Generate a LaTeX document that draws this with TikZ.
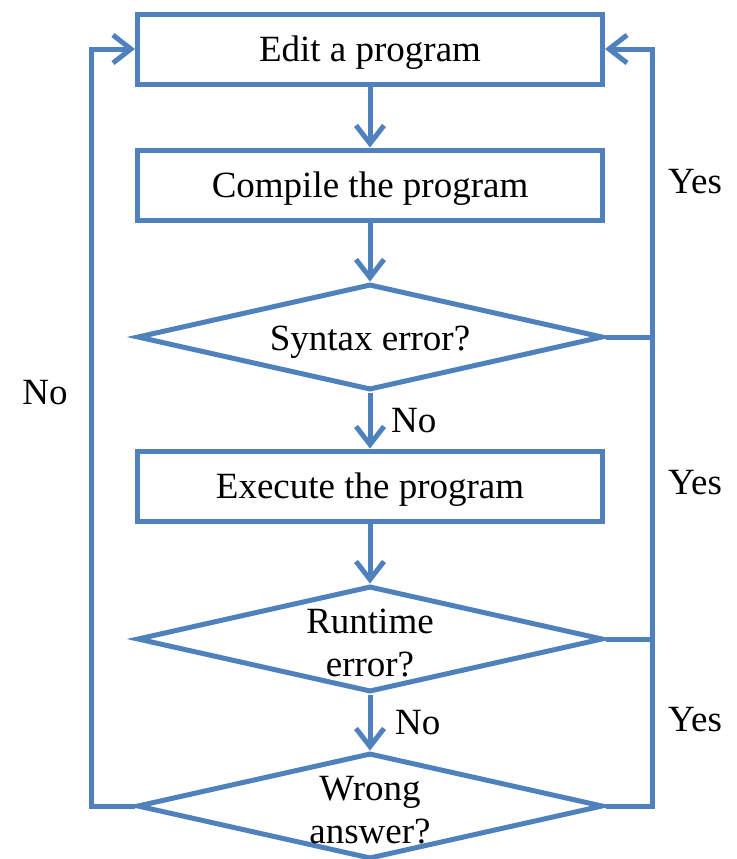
\documentclass[tikz,border=0pt]{standalone}
\usepackage{fontspec}
\setmainfont{Liberation Serif}
\usetikzlibrary{shapes.geometric, arrows.meta}

\definecolor{flowblue}{HTML}{4F81BD}

\begin{document}
\begin{tikzpicture}[x=0.5pt, y=-0.5pt, font=\fontsize{18.5}{21.5}\selectfont]
% Setup the styles for the boxes and the decisions
\tikzset{step box/.style={rectangle, draw=flowblue, line width=2.5pt,
		minimum width=232.5pt, minimum height=35pt, inner sep=0pt, text depth=0pt},
	decision/.style={diamond, draw=flowblue, line width=2.5pt,
		minimum width=233pt, minimum height=53pt, inner sep=0pt},
	flow/.style={draw=flowblue, line width=2.5pt,
		-{Straight Barb[length=9pt, width=14pt]}}}
\useasboundingbox (0,0) rectangle (737,859);

% Draw the steps
\node[step box] at (370, 49)  (edit)    {Edit a program};
\node[step box] at (370, 185) (compile) {Compile the program};
\node[decision] at (370, 337) (syntax)  {};
\node[step box] at (370, 486) (execute) {Execute the program};
\node[decision] at (370, 639) (runtime) {};
\node[decision] at (370, 806) (wrong)   {};

% Texts of the decisions
\node[yshift=-2.5pt] at (syntax)  (syntaxtext)  {Syntax error?};
\node[align=center, yshift=-2pt] at (runtime) (runtimetext) {Runtime\\error?};
\node[align=center, yshift=-2pt] at (wrong)   (wrongtext)   {Wrong\\answer?};

% Corners of the loops
\coordinate (right) at (652, 49);
\coordinate (left)  at (91, 49);

% Connect the steps with arrows
\path[flow]
(edit)    edge                                    (compile)
(compile) edge                                    (syntax)
(syntax)  edge node[right, xshift=6pt] {No}       (execute)
(execute) edge                                    (runtime)
(runtime) edge node[right, xshift=8pt] {No}       (wrong);

% Loops back to the first step
\draw[flow] (wrong.east) -| (right) -- (edit.east);
\draw[flow] (wrong.west) -| (left) -- (edit.west);
\draw[flow, -] (syntax.east) -- (syntax.east -| right);
\draw[flow, -] (runtime.east) -- (runtime.east -| right);

% Labels of the loops
\node at (695, 182) (yes1) {Yes};
\node at (695, 483) (yes2) {Yes};
\node at (695, 720) (yes3) {Yes};
\node at (45, 393)  (no)   {No};
\end{tikzpicture}
\end{document}
